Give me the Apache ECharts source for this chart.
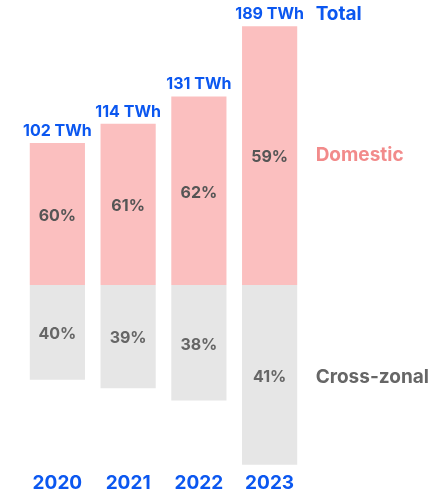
<!DOCTYPE html>
<html>
<head>
<meta charset="utf-8">
<script src="https://cdn.jsdelivr.net/npm/echarts@6/dist/echarts.min.js"></script>
<style>
  html, body { margin: 0; padding: 0; background: #fff; }
  #chart { width: 440px; height: 495px; }
</style>
</head>
<body>
<div id="chart"></div>
<script>
const years = ["2020", "2021", "2022", "2023"]
const totals = [102, 114, 131, 189]            // TWh
const domesticShare = [60, 61, 62, 59]         // %
const crossShare = [40, 39, 38, 41]            // %
const domesticTWh = [61.2, 69.5, 81.2, 111.5]
const crossTWh = [-40.8, -44.5, -49.8, -77.5]  // drawn below the baseline
const totalMarks = [0, 0, 0, 0]                // zero-height bar carrying the total label

const BLUE = "#0b57f0"
const PINK = "#fbbfbf"
const GREY = "#e6e6e6"
const FONT = "Inter, 'Noto Sans', sans-serif"

const chart = echarts.init(document.getElementById("chart"))

chart.setOption({
  animation: false,
  grid: { left: 22, right: 135, top: 6.6, bottom: 24.4 },
  xAxis: {
    type: "category",
    data: years,
    position: "bottom",
    axisLine: { show: false, onZero: false },
    axisTick: { show: false },
    axisLabel: { color: BLUE, fontFamily: FONT, fontSize: 19, fontWeight: "bold", margin: 3 },
  },
  yAxis: {
    type: "value",
    min: -80,
    max: 120,
    show: false,
    splitLine: { show: false },
  },
  series: [
    {
      name: "Domestic",
      type: "bar",
      stack: "a",
      data: domesticTWh,
      barCategoryGap: "22%",
      itemStyle: { color: PINK },
      label: {
        show: true,
        position: "inside",
        offset: [0, 2],
        formatter: p => domesticShare[p.dataIndex] + "%",
        color: "#555",
        fontFamily: FONT,
        fontSize: 16,
        fontWeight: "bold",
      },
    },
    {
      name: "Total",
      type: "bar",
      stack: "a",
      data: totalMarks,
      itemStyle: { color: "transparent" },
      label: {
        show: true,
        position: "top",
        distance: 4,
        formatter: p => totals[p.dataIndex] + " TWh",
        color: BLUE,
        fontFamily: FONT,
        fontSize: 16,
        fontWeight: "bold",
      },
    },
    {
      name: "Cross-zonal",
      type: "bar",
      stack: "a",
      data: crossTWh,
      itemStyle: { color: GREY },
      label: {
        show: true,
        position: "inside",
        offset: [0, 2],
        formatter: p => crossShare[p.dataIndex] + "%",
        color: "#666",
        fontFamily: FONT,
        fontSize: 16,
        fontWeight: "bold",
      },
    },
  ],
})

// side labels next to the last bar
const last = years.length - 1
const xLast = chart.convertToPixel({ xAxisIndex: 0 }, years[last])
const yTop = chart.convertToPixel({ yAxisIndex: 0 }, domesticTWh[last])
const yZero = chart.convertToPixel({ yAxisIndex: 0 }, 0)
const yBottom = chart.convertToPixel({ yAxisIndex: 0 }, crossTWh[last])
const sideX = xLast + 46

function sideText(text, y, color) {
  return {
    type: "text",
    x: sideX,
    y: y,
    style: { text, fill: color, font: "bold 19px " + FONT, textVerticalAlign: "middle" },
  }
}

chart.setOption({
  graphic: [
    sideText("Total", yTop - 12, BLUE),
    sideText("Domestic", (yTop + yZero) / 2, "#f28b8b"),
    sideText("Cross-zonal", (yZero + yBottom) / 2 + 2, "#666"),
  ],
})
</script>
</body>
</html>
